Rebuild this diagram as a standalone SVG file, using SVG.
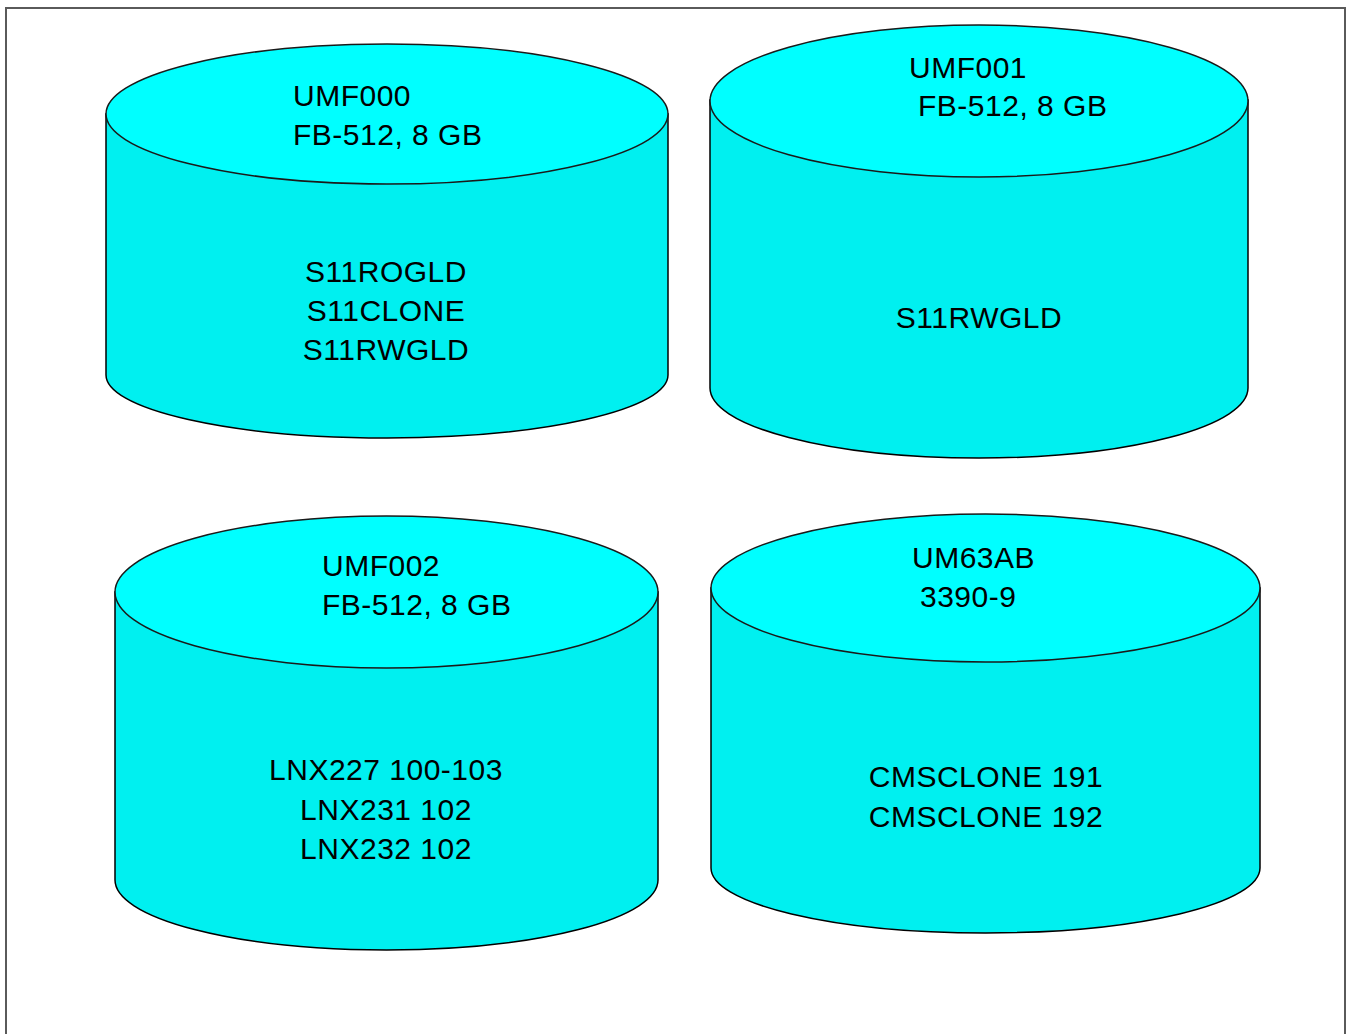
<svg xmlns="http://www.w3.org/2000/svg" width="1348" height="1034" viewBox="0 0 1348 1034">
  <style>
    .frame { fill: #ffffff; stroke: #5a5a5a; stroke-width: 2; }
    .body { fill: #00f0f0; stroke: #000000; stroke-width: 1.5; }
    .lid { fill: #00ffff; stroke: #1a1a1a; stroke-width: 1.5; }
    .lbl { font-family: "Liberation Sans", Arial, sans-serif; font-size: 30px; letter-spacing: 0.5px; fill: #000000; }
    .mid { text-anchor: middle; }
  </style>

  <!-- page frame -->
  <rect class="frame" x="6" y="8" width="1339" height="1040"/>

  <g id="connectors"/>

  <!-- UMF000 volume -->
  <g id="umf000">
    <path class="body" d="M106,114 L106,375 A281,63 0 0 0 668,375 L668,114 Z"/>
    <ellipse class="lid" cx="387" cy="114" rx="281" ry="70"/>
    <text class="lbl" x="293" y="106">UMF000</text>
    <text class="lbl" x="293" y="145">FB-512, 8 GB</text>
    <text class="lbl mid" x="386" y="282">S11ROGLD</text>
    <text class="lbl mid" x="386" y="321">S11CLONE</text>
    <text class="lbl mid" x="386" y="360">S11RWGLD</text>
  </g>

  <!-- UMF001 volume -->
  <g id="umf001">
    <path class="body" d="M710,100 L710,388 A269,70 0 0 0 1248,388 L1248,100 Z"/>
    <ellipse class="lid" cx="979" cy="101" rx="269" ry="76"/>
    <text class="lbl" x="909" y="78">UMF001</text>
    <text class="lbl" x="918" y="116">FB-512, 8 GB</text>
    <text class="lbl mid" x="979" y="328">S11RWGLD</text>
  </g>

  <!-- UMF002 volume -->
  <g id="umf002">
    <path class="body" d="M115,592 L115,880 A271.5,70 0 0 0 658,880 L658,592 Z"/>
    <ellipse class="lid" cx="386.5" cy="592" rx="271.5" ry="76"/>
    <text class="lbl" x="322" y="576">UMF002</text>
    <text class="lbl" x="322" y="615">FB-512, 8 GB</text>
    <text class="lbl mid" x="386" y="780">LNX227 100-103</text>
    <text class="lbl mid" x="386" y="820">LNX231 102</text>
    <text class="lbl mid" x="386" y="859">LNX232 102</text>
  </g>

  <!-- UM63AB volume -->
  <g id="um63ab">
    <path class="body" d="M711,588 L711,868 A274.5,65 0 0 0 1260,868 L1260,588 Z"/>
    <ellipse class="lid" cx="985.5" cy="588" rx="274.5" ry="74"/>
    <text class="lbl" x="912" y="568">UM63AB</text>
    <text class="lbl" x="920" y="607">3390-9</text>
    <text class="lbl mid" x="986" y="787">CMSCLONE 191</text>
    <text class="lbl mid" x="986" y="827">CMSCLONE 192</text>
  </g>
</svg>
